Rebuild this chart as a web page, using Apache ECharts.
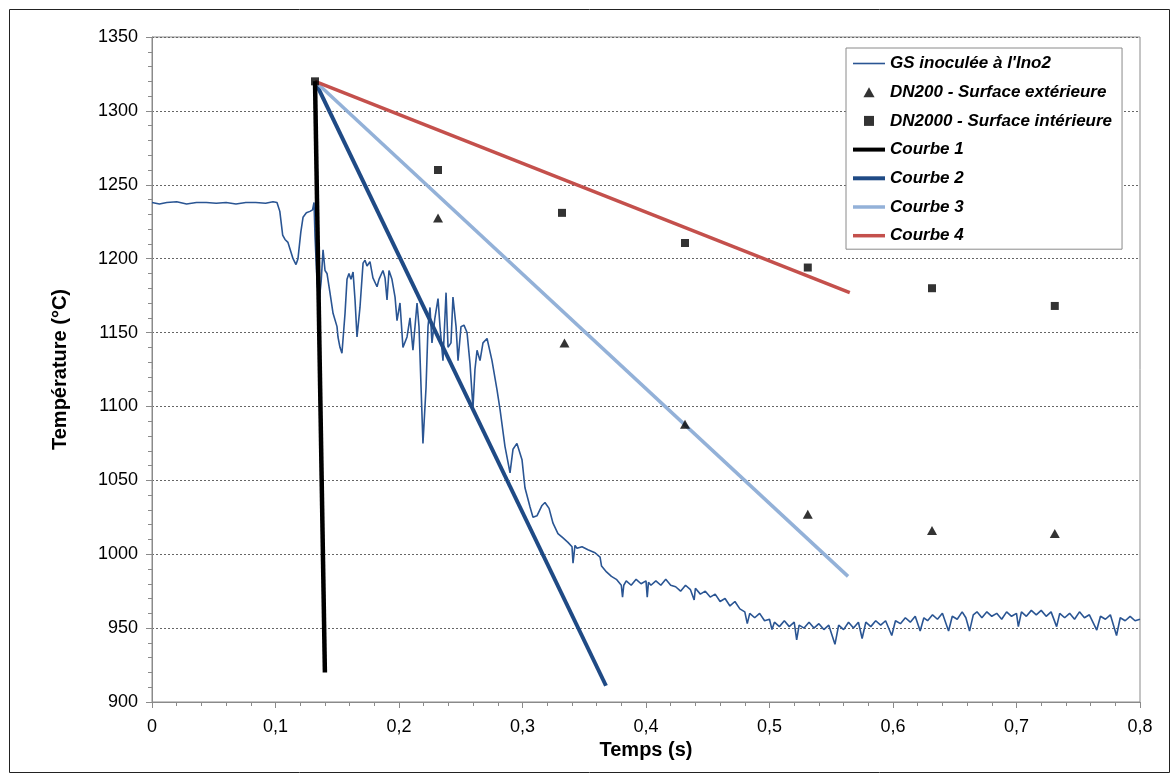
<!DOCTYPE html>
<html>
<head>
<meta charset="utf-8">
<script src="https://cdn.jsdelivr.net/npm/echarts@6/dist/echarts.min.js"></script>
<style>
html,body{margin:0;padding:0;background:#fff;}
#chart{width:1173px;height:774px;}
</style>
</head>
<body>
<div id="chart"></div>
<script>
// ---- Data ----
const gsTime = [
0,0.006,0.012,0.02,0.028,0.036,0.044,0.052,0.06,0.068,0.076,0.084,0.092,0.098,0.1012,
0.1035,0.1058,0.1077,0.1101,0.1142,0.1166,0.1182,0.1205,0.1223,0.125,0.1279,0.13,0.1312,
0.132,0.1336,0.1352,0.137,0.1385,0.1401,0.1417,0.1441,0.1466,0.1498,0.1506,0.1522,0.1538,0.1563,0.1579,0.1595,0.1611,0.1628,0.1644,0.166,0.1684,0.1709,0.1725,0.1741,0.1765,0.1789,0.1822,0.1838,0.187,0.1887,0.1903,0.1919,0.1943,0.1968,0.1984,
0.2008,0.2032,0.2065,0.2089,0.2113,0.2146,0.2162,0.2194,0.2219,0.2235,0.2251,0.2267,0.2291,0.2316,0.2332,0.2356,0.2381,0.2397,0.2421,0.2437,0.2462,0.2478,0.2502,0.2526,0.2551,0.2575,0.2599,0.2615,0.2632,0.2656,0.268,0.2713,0.2753,0.2794,0.2818,0.2858,0.2899,0.2923,0.2955,0.2996,0.302,0.3061,0.3085,0.3117,0.3158,0.3182,0.3215,0.3247,0.3287,0.3328,0.3368,0.3401,0.3409,0.3425,0.3441,0.3482,0.353,0.3587,0.3628,
0.364,0.368,0.372,0.376,0.38,0.381,0.382,0.384,0.388,0.392,0.396,0.4,0.401,0.402,0.404,0.408,0.412,0.416,0.42,0.424,0.428,0.432,0.436,0.439,0.44,0.444,0.448,0.452,0.456,0.46,0.464,0.468,0.472,0.476,0.48,0.482,0.484,0.488,0.492,0.496,0.5,0.502,0.504,0.508,0.512,0.516,0.52,0.522,0.524,0.528,0.532,0.536,0.54,0.544,0.548,0.553,0.556,0.56,0.564,0.568,0.572,0.575,0.578,0.582,0.586,0.59,0.594,0.599,0.602,0.606,0.61,0.614,0.618,0.622,0.625,0.628,0.632,0.636,0.64,0.645,0.648,0.652,0.656,0.659,0.662,0.665,0.668,0.672,0.676,0.68,0.684,0.688,0.692,0.696,0.7,0.7015,0.704,0.708,0.712,0.716,0.72,0.724,0.728,0.7325,0.735,0.739,0.743,0.747,0.751,0.755,0.759,0.765,0.768,0.772,0.776,0.781,0.784,0.788,0.792,0.796,0.8
];
const gsTemp = [
1238,1237,1238,1238.5,1237,1238,1238,1237.5,1238,1237,1238,1238,1237.5,1238.5,1238,
1232,1216,1213,1211,1200,1196,1200,1218,1228,1231,1232,1233,1238,
1215,1185,1170,1185,1206,1192,1190,1177,1163,1154,1147,1140,1136,1163,1186,1190,1186,1191,1172,1147,1167,1197,1199,1195,1198,1187,1181,1186,1192,1187,1172,1192,1186,1174,1158,
1170,1140,1147,1160,1138,1170,1154,1075,1113,1154,1167,1143,1160,1173,1154,1131,1177,1140,1143,1174,1154,1131,1154,1155,1150,1129,1099,1125,1138,1131,1143,1146,1131,1111,1098,1073,1055,1071,1075,1064,1045,1032,1025,1026,1033,1035,1031,1021,1014,1011,1008,1005,994,1006,1004,1005,1003,1001,998,
992,988,985,983,979,971,979,982,979,983,980,982,971,981,979,982,979,983,979,978,975,979,976,969,977,973,975,971,973,968,970,965,968,963,961,953,960,957,960,955,956,949,954,951,955,951,954,942,952,950,954,950,953,949,952,939,952,949,954,950,954,943,954,951,955,952,955,945,955,953,957,954,958,948,957,955,959,956,960,948,958,956,961,957,948,959,961,957,961,958,960,956,961,958,960,951,961,958,962,959,962,958,961,951,960,957,960,956,961,957,959,948.7,958,956,959,945,957,955,958,955,956
];
const dn200Time = [0.2316, 0.334, 0.4316, 0.531, 0.6316, 0.731];
const dn200Temp = [1227.5, 1143, 1088, 1027, 1016, 1014];
const dn2000Time = [0.132, 0.2316, 0.332, 0.4316, 0.531, 0.6316, 0.731];
const dn2000Temp = [1320, 1260, 1231, 1210.6, 1194, 1180, 1168];
const courbeStart = [0.132, 1320];
const courbe1End = [0.140, 920];
const courbe2End = [0.3676, 911];
const courbe3End = [0.5636, 985];
const courbe4End = [0.565, 1177];
const seriesNames = ["GS inoculée à l'Ino2", "DN200 - Surface extérieure", "DN2000 - Surface intérieure", "Courbe 1", "Courbe 2", "Courbe 3", "Courbe 4"];
const yTicks = [900, 950, 1000, 1050, 1100, 1150, 1200, 1250, 1300, 1350];

const zip = (a, b) => a.map((v, i) => [v, b[i]]);
const FONT = '"Liberation Sans", Arial, sans-serif';

const chart = echarts.init(document.getElementById('chart'), null, {renderer: 'canvas'});
const option = {
  animation: false,
  backgroundColor: '#fff',
  graphic: [{
    type: 'rect', left: 7, top: 7, z: -10,
    shape: {width: 1160, height: 763},
    style: {fill: 'none', stroke: '#222', lineWidth: 1}
  }],
  grid: {left: 152, right: 33, top: 37, bottom: 72, show: true, borderColor: '#8a8a8a', borderWidth: 1, backgroundColor: 'transparent'},
  legend: {
    orient: 'vertical', left: 846, top: 48,
    itemWidth: 32, itemHeight: 10, itemGap: 11.7,
    padding: [7, 10, 5, 7],
    backgroundColor: '#fff',
    borderColor: '#8a8a8a', borderWidth: 1, borderRadius: 0,
    textStyle: {fontFamily: FONT, fontSize: 17, fontWeight: 'bold', fontStyle: 'italic', color: '#000', lineHeight: 17},
    data: [
      {name: seriesNames[0], icon: 'path://M0,0 L32,0 L32,1.6 L0,1.6 Z'},
      {name: seriesNames[1], icon: 'path://M5,0 L10,9 L0,9 Z'},
      {name: seriesNames[2], icon: 'path://M0,0 L9,0 L9,9 L0,9 Z'},
      {name: seriesNames[3], icon: 'path://M0,0 L32,0 L32,4 L0,4 Z'},
      {name: seriesNames[4], icon: 'path://M0,0 L32,0 L32,4 L0,4 Z'},
      {name: seriesNames[5], icon: 'path://M0,0 L32,0 L32,3.5 L0,3.5 Z'},
      {name: seriesNames[6], icon: 'path://M0,0 L32,0 L32,3.5 L0,3.5 Z'}
    ]
  },
  xAxis: {
    type: 'value', min: 0, max: 0.8, interval: 0.1,
    name: 'Temps (s)', nameLocation: 'middle', nameGap: 36,
    nameTextStyle: {fontFamily: FONT, fontSize: 20, fontWeight: 'bold', color: '#000'},
    axisLine: {show: true, lineStyle: {color: '#8a8a8a', width: 1}},
    axisTick: {show: true, inside: false, length: 6, lineStyle: {color: '#8a8a8a'}},
    minorTick: {show: true, splitNumber: 5, length: 4, lineStyle: {color: '#8a8a8a'}},
    splitLine: {show: false},
    axisLabel: {fontFamily: FONT, fontSize: 18, color: '#000', margin: 16,
      formatter: v => v === 0 ? '0' : v.toFixed(1).replace('.', ',')}
  },
  yAxis: {
    type: 'value', min: yTicks[0], max: yTicks[yTicks.length - 1], interval: 50,
    name: 'Température (°C)', nameLocation: 'middle', nameGap: 82, nameRotate: 90,
    nameTextStyle: {fontFamily: FONT, fontSize: 20, fontWeight: 'bold', color: '#000'},
    axisLine: {show: true, lineStyle: {color: '#8a8a8a', width: 1}},
    axisTick: {show: true, inside: false, length: 6, lineStyle: {color: '#8a8a8a'}},
    minorTick: {show: true, splitNumber: 5, length: 4, lineStyle: {color: '#8a8a8a'}},
    splitLine: {show: true, lineStyle: {color: '#666', width: 1, type: [2, 2]}},
    axisLabel: {fontFamily: FONT, fontSize: 18, color: '#000', margin: 14,
      formatter: v => String(v)}
  },
  series: [
    {name: seriesNames[0], type: 'line', data: zip(gsTime, gsTemp), symbol: 'none',
      lineStyle: {color: '#2a5593', width: 1.6}, itemStyle: {color: '#2a5593'}, z: 2},
    {name: seriesNames[1], type: 'scatter', data: zip(dn200Time, dn200Temp),
      symbol: 'triangle', symbolSize: [10, 9], itemStyle: {color: '#000'}, z: 10},
    {name: seriesNames[2], type: 'scatter', data: zip(dn2000Time, dn2000Temp),
      symbol: 'rect', symbolSize: 8, itemStyle: {color: '#000'}, z: 10},
    {name: seriesNames[3], type: 'line', data: [courbeStart, courbe1End], symbol: 'none',
      lineStyle: {color: '#000', width: 4.5}, itemStyle: {color: '#000'}, z: 5},
    {name: seriesNames[4], type: 'line', data: [courbeStart, courbe2End], symbol: 'none',
      lineStyle: {color: '#1f4a85', width: 4}, itemStyle: {color: '#1f4a85'}, z: 4},
    {name: seriesNames[5], type: 'line', data: [courbeStart, courbe3End], symbol: 'none',
      lineStyle: {color: '#93b1d8', width: 3.5}, itemStyle: {color: '#93b1d8'}, z: 4},
    {name: seriesNames[6], type: 'line', data: [courbeStart, courbe4End], symbol: 'none',
      lineStyle: {color: '#c4504c', width: 3.5}, itemStyle: {color: '#c4504c'}, z: 4}
  ]
};
chart.setOption(option);
</script>
</body>
</html>
